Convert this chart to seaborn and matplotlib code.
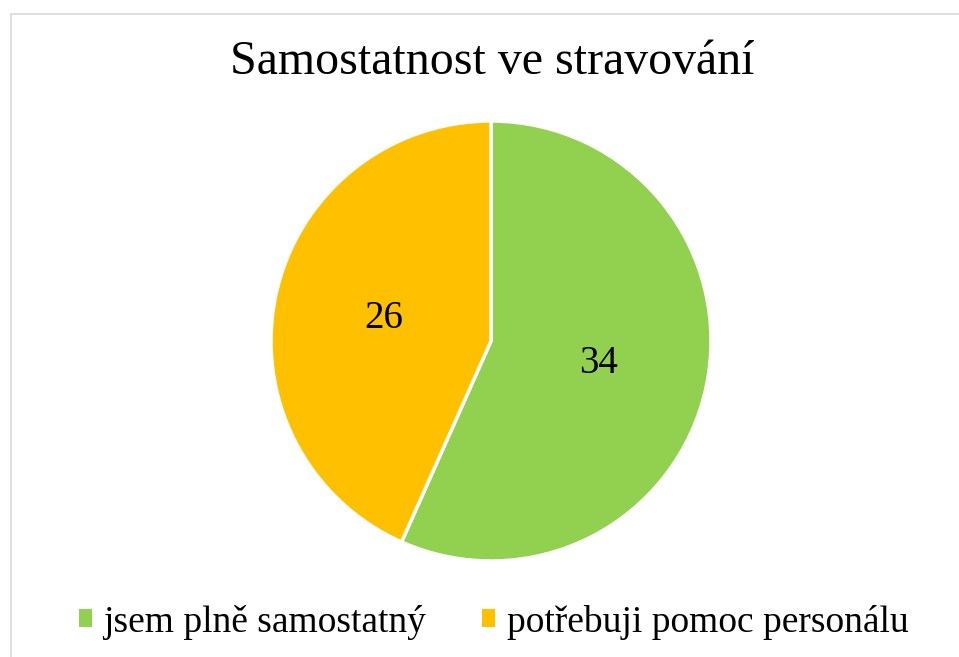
import matplotlib.pyplot as plt
from matplotlib.lines import Line2D
import seaborn as sns

sns.set_theme(style="white")
plt.rcParams['font.family'] = ['Liberation Serif', 'DejaVu Serif']
plt.rcParams['text.color'] = 'black'

# data
categories = ['jsem plně samostatný', 'potřebuji pomoc personálu']
values = [34, 26]
colors = ['#92D050', '#FFC000']
title = 'Samostatnost ve stravování'

W, H = 959, 657
fig = plt.figure(figsize=(W / 100, H / 100), dpi=100)
fig.patch.set_facecolor('white')

# pie box in pixels: center (491, 341), radius 220
cx, cy, r = 491, 341, 220
ax = fig.add_axes([(cx - r) / W, (H - cy - r) / H, 2 * r / W, 2 * r / H])

wedges, texts, autotexts = ax.pie(
    values, colors=colors, startangle=90, counterclock=False,
    autopct=lambda p: '{:.0f}'.format(p * sum(values) / 100),
    pctdistance=0.5,
    wedgeprops=dict(edgecolor='white', linewidth=2.5, clip_on=False),
    textprops=dict(fontsize=28, color='black'))
ax.set_xlim(-1, 1)
ax.set_ylim(-1, 1)
ax.set_aspect('equal')
ax.axis('off')

fig.text(0.513, 1 - 62 / H, title, ha='center', va='center', fontsize=34.5, color='black')

leg = fig.legend(wedges, categories, loc='center', bbox_to_anchor=(0.5146, 1 - 622 / H),
                 ncol=2, frameon=False, fontsize=27, handlelength=0.35, handleheight=0.35,
                 handletextpad=0.3, columnspacing=1.5)
for h in leg.legend_handles:
    h.set_edgecolor('none')
for t in leg.get_texts():
    t.set_color('black')

# chart area border
grey = '#D9D9D9'
fig.add_artist(Line2D([10.5 / W, 10.5 / W], [0, 1 - 13.5 / H], transform=fig.transFigure, color=grey, lw=1.2))
fig.add_artist(Line2D([10.5 / W, 1], [1 - 13.5 / H, 1 - 13.5 / H], transform=fig.transFigure, color=grey, lw=1.2))

fig.savefig('out.png', dpi=100)
